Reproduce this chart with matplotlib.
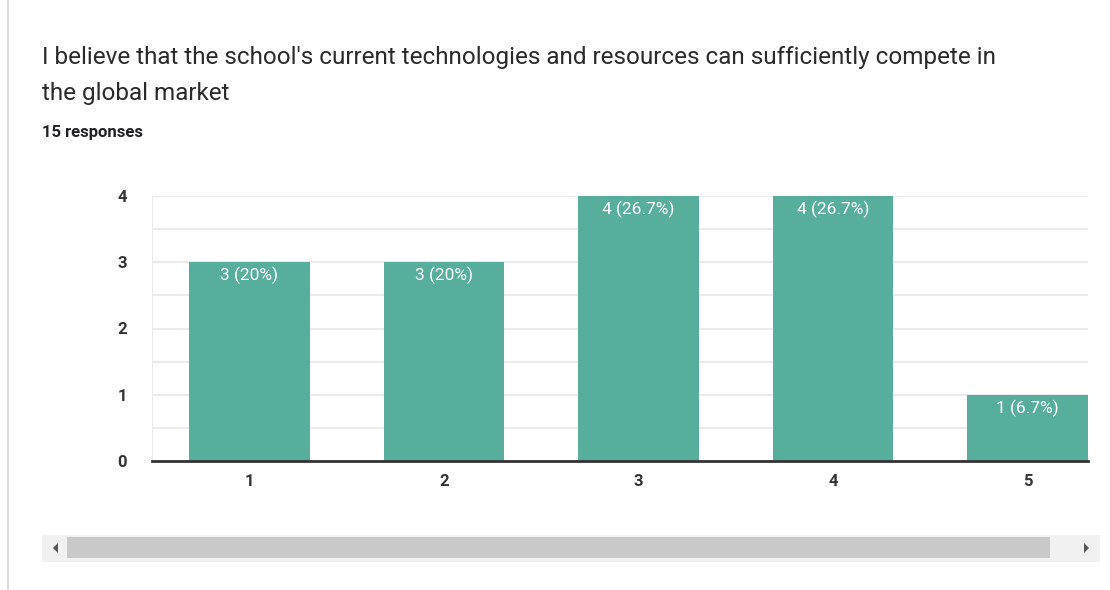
import matplotlib.pyplot as plt
from matplotlib.patches import Rectangle, Polygon

plt.rcParams['font.family'] = ['Roboto', 'DejaVu Sans']

# response counts for each rating
ratings = [1, 2, 3, 4, 5]
counts = [3, 3, 4, 4, 1]
labels = ["3 (20%)", "3 (20%)", "4 (26.7%)", "4 (26.7%)", "1 (6.7%)"]

title = ("I believe that the school's current technologies and resources can sufficiently compete in\n"
         "the global market")
subtitle = "15 responses"

BAR = "#58ae9c"

fig = plt.figure(figsize=(11.1, 5.9), dpi=100)
fig.patch.set_facecolor("white")

ax = fig.add_axes([152 / 1110, 129 / 590, 936 / 1110, 265 / 590])
ax.bar(ratings, counts, width=0.62, color=BAR, zorder=3)
for x, c, lab in zip(ratings, counts, labels):
    ax.text(x, c - 0.07, lab, ha="center", va="top", color="white",
            fontsize=12.5, zorder=4)

ax.set_xlim(0.5, 5.31)
ax.set_ylim(0, 4)
ax.set_yticks([0, 1, 2, 3, 4])
ax.set_yticks([0.5, 1.5, 2.5, 3.5], minor=True)
ax.set_xticks(ratings)
ax.grid(axis="y", which="both", color="#ebebeb", linewidth=1.5, zorder=0)
ax.tick_params(axis="both", which="both", length=0, labelsize=12,
               labelcolor="#333333")
for t in ax.get_xticklabels() + ax.get_yticklabels():
    t.set_fontweight("bold")
ax.tick_params(axis="y", pad=18)
ax.tick_params(axis="x", pad=9)
for s in ["top", "right", "left"]:
    ax.spines[s].set_visible(False)
ax.spines["bottom"].set_color("#333333")
ax.spines["bottom"].set_linewidth(2)
ax.spines["bottom"].set_zorder(5)
# the grid line at the left edge
ax.axvline(0.5, color="#ebebeb", linewidth=1.5, zorder=0)

# heading text
fig.text(42 / 1110, 1 - 46 / 590, title, ha="left", va="top", fontsize=17.5,
         color="#2a2a2a", linespacing=1.72)
fig.text(42 / 1110, 1 - 125 / 590, subtitle, ha="left", va="top",
         fontsize=12, fontweight="bold", color="#202124")

# card border on the left
fig.add_artist(plt.Line2D([8 / 1110, 8 / 1110], [0, 1], color="#dadce0",
                          linewidth=1.5, transform=fig.transFigure))

# horizontal scrollbar
def px(x, y):
    return (x / 1110, 1 - y / 590)

fig.add_artist(Rectangle(px(42, 562), 1058 / 1110, 27 / 590,
                         transform=fig.transFigure, facecolor="#f1f1f1",
                         edgecolor="none"))
fig.add_artist(Rectangle(px(67, 558), 983 / 1110, 21 / 590,
                         transform=fig.transFigure, facecolor="#c9c9c9",
                         edgecolor="none"))
fig.add_artist(Polygon([px(58, 543), px(58, 553), px(53, 548)], closed=True,
                       transform=fig.transFigure, facecolor="#555555",
                       edgecolor="none"))
fig.add_artist(Polygon([px(1084, 543), px(1084, 553), px(1089, 548)], closed=True,
                       transform=fig.transFigure, facecolor="#555555",
                       edgecolor="none"))

fig.savefig("out.png", dpi=100)
